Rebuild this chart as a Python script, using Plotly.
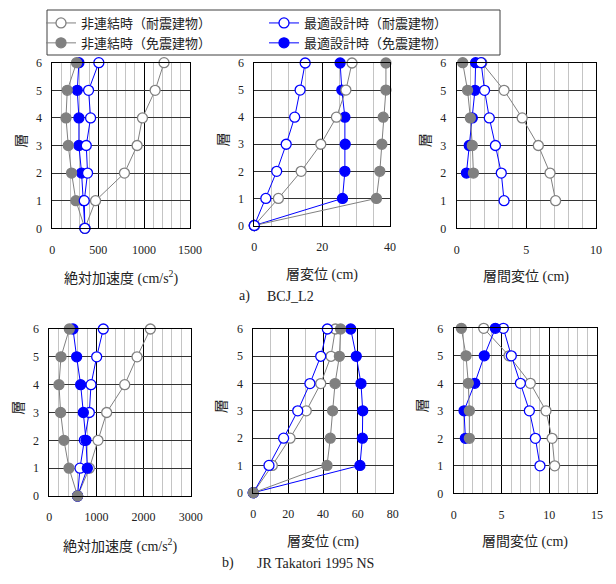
import plotly.graph_objects as go

# The page body has an 8px margin; the figure is sized to fill the rest of the window.
OFF = 8
W, H = 616 - OFF, 584 - OFF


def px(x):
    return (x - OFF) / W


def py(y):
    return 1 - (y - OFF) / H


floors = [0, 1, 2, 3, 4, 5, 6]
floors_drift_fix = [1, 2, 3, 4, 5, 6]
floors_drift_iso = [2, 3, 4, 5, 6]

names = ["非連結時（耐震建物）", "最適設計時（耐震建物）", "非連結時（免震建物）", "最適設計時（免震建物）"]

# a) BCJ_L2
acc_a_nc_fix = [355, 471, 786, 924, 982, 1120, 1217]
acc_a_nc_iso = [355, 257, 210, 174, 149, 163, 264]
acc_a_opt_fix = [355, 348, 384, 370, 417, 395, 507]
acc_a_opt_iso = [355, 340, 319, 290, 290, 272, 290]

disp_a_nc_fix = [0, 7.1, 13.8, 19.6, 24.2, 27.0, 28.8]
disp_a_nc_iso = [0, 36.0, 37.0, 37.6, 38.0, 38.8, 38.8]
disp_a_opt_fix = [0, 3.4, 6.6, 9.4, 11.9, 13.5, 15.0]
disp_a_opt_iso = [0, 26.0, 26.7, 26.8, 26.7, 25.8, 25.3]

drift_a_nc_fix = [7.1, 6.7, 5.86, 4.7, 3.4, 1.8]
drift_a_opt_fix = [3.4, 3.2, 2.78, 2.34, 2.0, 1.75]
drift_a_nc_iso = [1.2, 1.12, 0.98, 0.78, 0.43]
drift_a_opt_iso = [0.7, 0.9, 1.12, 1.31, 1.36]

# b) JR Takatori 1995 NS
acc_b_nc_fix = [600, 850, 1033, 1217, 1600, 1861, 2144]
acc_b_nc_iso = [600, 418, 311, 240, 205, 248, 425]
acc_b_opt_fix = [600, 651, 743, 849, 885, 1005, 1146]
acc_b_opt_iso = [600, 807, 778, 722, 665, 580, 502]

disp_b_nc_fix = [0, 10.9, 21.1, 30.4, 38.7, 44.6, 47.1]
disp_b_nc_iso = [0, 42.3, 44.2, 45.5, 46.9, 49.4, 50.1]
disp_b_opt_fix = [0, 9.0, 17.4, 25.5, 32.5, 38.7, 42.5]
disp_b_opt_iso = [0, 61.2, 62.6, 62.8, 61.8, 59.1, 55.9]

drift_b_nc_fix = [10.57, 10.3, 9.66, 8.02, 5.79, 3.14]
drift_b_opt_fix = [9.03, 8.55, 7.92, 6.98, 6.03, 5.2]
drift_b_nc_iso = [1.64, 1.64, 1.53, 1.29, 0.8]
drift_b_opt_iso = [1.22, 1.08, 2.2, 3.2, 4.36]

SERIF = "Liberation Serif"
x_titles = [
    "絶対加速度 <span style=\"font-family:'Liberation Serif'\">(cm/s<sup>2</sup>)</span>",
    "層変位 <span style=\"font-family:'Liberation Serif'\">(cm)</span>",
    "層間変位 <span style=\"font-family:'Liberation Serif'\">(cm)</span>",
]
y_title = "層"
captions = [("a)", "BCJ_L2"), ("b)", "JR Takatori 1995 NS")]

FONT = "Liberation Serif, Noto Sans CJK JP, serif"
GRAY = "#808080"
BLUE = "#0000ff"
TXT = "#222222"

# pixel boxes (window coordinates) for each panel: (x0, x1, ytop, ybottom)
panels = [
    (52.3, 190.0, 62.7, 228.3),
    (254.3, 390.0, 63.0, 225.5),
    (456.7, 596.0, 62.7, 228.3),
    (49.3, 190.7, 329.0, 496.0),
    (253.3, 392.7, 329.0, 492.7),
    (453.7, 597.0, 328.3, 493.3),
]
xranges = [(0, 1500, 500, 100), (0, 40, 20, 5), (0, 10, 5, 1),
           (0, 3000, 1000, 200), (0, 80, 20, 10), (0, 15, 5, 1)]

styles = {
    "nc_fix": dict(color=GRAY, fill="white"),
    "opt_fix": dict(color=BLUE, fill="white"),
    "nc_iso": dict(color=GRAY, fill=GRAY),
    "opt_iso": dict(color=BLUE, fill=BLUE),
}
rank = {"nc_fix": 1, "opt_fix": 2, "nc_iso": 3, "opt_iso": 4}
label = {"nc_fix": names[0], "opt_fix": names[1], "nc_iso": names[2], "opt_iso": names[3]}

panel_data = [
    {"nc_fix": (acc_a_nc_fix, floors), "nc_iso": (acc_a_nc_iso, floors),
     "opt_fix": (acc_a_opt_fix, floors), "opt_iso": (acc_a_opt_iso, floors)},
    {"nc_fix": (disp_a_nc_fix, floors), "nc_iso": (disp_a_nc_iso, floors),
     "opt_fix": (disp_a_opt_fix, floors), "opt_iso": (disp_a_opt_iso, floors)},
    {"nc_fix": (drift_a_nc_fix, floors_drift_fix), "nc_iso": (drift_a_nc_iso, floors_drift_iso),
     "opt_fix": (drift_a_opt_fix, floors_drift_fix), "opt_iso": (drift_a_opt_iso, floors_drift_iso)},
    {"nc_fix": (acc_b_nc_fix, floors), "nc_iso": (acc_b_nc_iso, floors),
     "opt_fix": (acc_b_opt_fix, floors), "opt_iso": (acc_b_opt_iso, floors)},
    {"nc_fix": (disp_b_nc_fix, floors), "nc_iso": (disp_b_nc_iso, floors),
     "opt_fix": (disp_b_opt_fix, floors), "opt_iso": (disp_b_opt_iso, floors)},
    {"nc_fix": (drift_b_nc_fix, floors_drift_fix), "nc_iso": (drift_b_nc_iso, floors_drift_iso),
     "opt_fix": (drift_b_opt_fix, floors_drift_fix), "opt_iso": (drift_b_opt_iso, floors_drift_iso)},
]
order_a = ["opt_iso", "nc_iso", "nc_fix", "opt_fix"]
order_b = ["nc_fix", "opt_fix", "opt_iso", "nc_iso"]

fig = go.Figure()
for i, pdata in enumerate(panel_data):
    order = order_a if i < 3 else order_b
    sfx = "" if i == 0 else str(i + 1)
    for key in order:
        xs, ys = pdata[key]
        st = styles[key]
        fig.add_trace(go.Scatter(
            x=xs, y=ys, mode="lines+markers", name=label[key],
            xaxis="x" + sfx, yaxis="y" + sfx, cliponaxis=False,
            line=dict(color=st["color"], width=1),
            marker=dict(symbol="circle", size=10, color=st["fill"],
                        line=dict(color=st["color"], width=1.3)),
            showlegend=(i == 0), legendrank=rank[key], hoverinfo="skip"))

layout = dict(
    width=W, height=H, margin=dict(l=0, r=0, t=0, b=0, autoexpand=False),
    paper_bgcolor="white", plot_bgcolor="white",
    font=dict(family=FONT, size=12, color=TXT),
    showlegend=True,
    legend=dict(orientation="h", x=px(41), y=py(8), xanchor="left", yanchor="top",
                borderwidth=0, bgcolor="rgba(0,0,0,0)",
                font=dict(family=FONT, size=13, color=TXT),
                entrywidth=178, entrywidthmode="pixels", itemwidth=30,
                tracegroupgap=0, traceorder="normal"),
    shapes=[dict(type="rect", xref="paper", yref="paper",
                 x0=px(47), x1=px(500), y0=py(55), y1=py(10),
                 line=dict(color="#404040", width=1), fillcolor="rgba(0,0,0,0)", layer="above")],
)

annotations = []
for i, (x0, x1, yt, yb) in enumerate(panels):
    sfx = "" if i == 0 else str(i + 1)
    lo, hi, dt, mdt = xranges[i]
    layout["xaxis" + sfx] = dict(
        domain=[px(x0), px(x1)], anchor="y" + sfx, range=[lo, hi], automargin=False,
        tick0=0, dtick=dt, showgrid=True, gridcolor="#000000", gridwidth=1,
        minor=dict(dtick=mdt, tick0=0, showgrid=True, gridcolor="#c4c4c4", gridwidth=1, ticks=""),
        zeroline=False, showline=True, linecolor="#000000", linewidth=1, mirror=True,
        ticks="", ticklabelstandoff=10, tickfont=dict(size=12, family=SERIF, color=TXT),
        fixedrange=True)
    layout["yaxis" + sfx] = dict(
        domain=[py(yb), py(yt)], anchor="x" + sfx, range=[0, 6], automargin=False,
        tick0=0, dtick=1, showgrid=True, gridcolor="#333333", gridwidth=1,
        zeroline=False, showline=True, linecolor="#000000", linewidth=1, mirror=True,
        ticks="", ticklabelstandoff=7, tickfont=dict(size=12, family=SERIF, color=TXT),
        fixedrange=True)
    # x title
    annotations.append(dict(
        text=x_titles[i % 3], x=px((x0 + x1) / 2), y=py(yb + 49),
        xref="paper", yref="paper", xanchor="center", yanchor="middle",
        showarrow=False, font=dict(size=14, family=FONT, color=TXT)))
    # y title
    annotations.append(dict(
        text=y_title, x=px(x0 - 31), y=py((yt + yb) / 2 - 5),
        xref="paper", yref="paper", xanchor="center", yanchor="middle",
        textangle=-90, showarrow=False, font=dict(size=14, family=FONT, color=TXT)))

cap_pos = [(237, 265, 296), (220, 255, 563)]
for (lbl, txt), (xa, xb, yy) in zip(captions, cap_pos):
    annotations.append(dict(text=lbl, x=px(xa), y=py(yy), xref="paper", yref="paper",
                            xanchor="left", yanchor="middle", showarrow=False,
                            font=dict(size=14, family=SERIF, color=TXT)))
    annotations.append(dict(text=txt, x=px(xb), y=py(yy), xref="paper", yref="paper",
                            xanchor="left", yanchor="middle", showarrow=False,
                            font=dict(size=14, family=SERIF, color=TXT)))

layout["annotations"] = annotations
fig.update_layout(**layout)
fig.write_html("out.html")
